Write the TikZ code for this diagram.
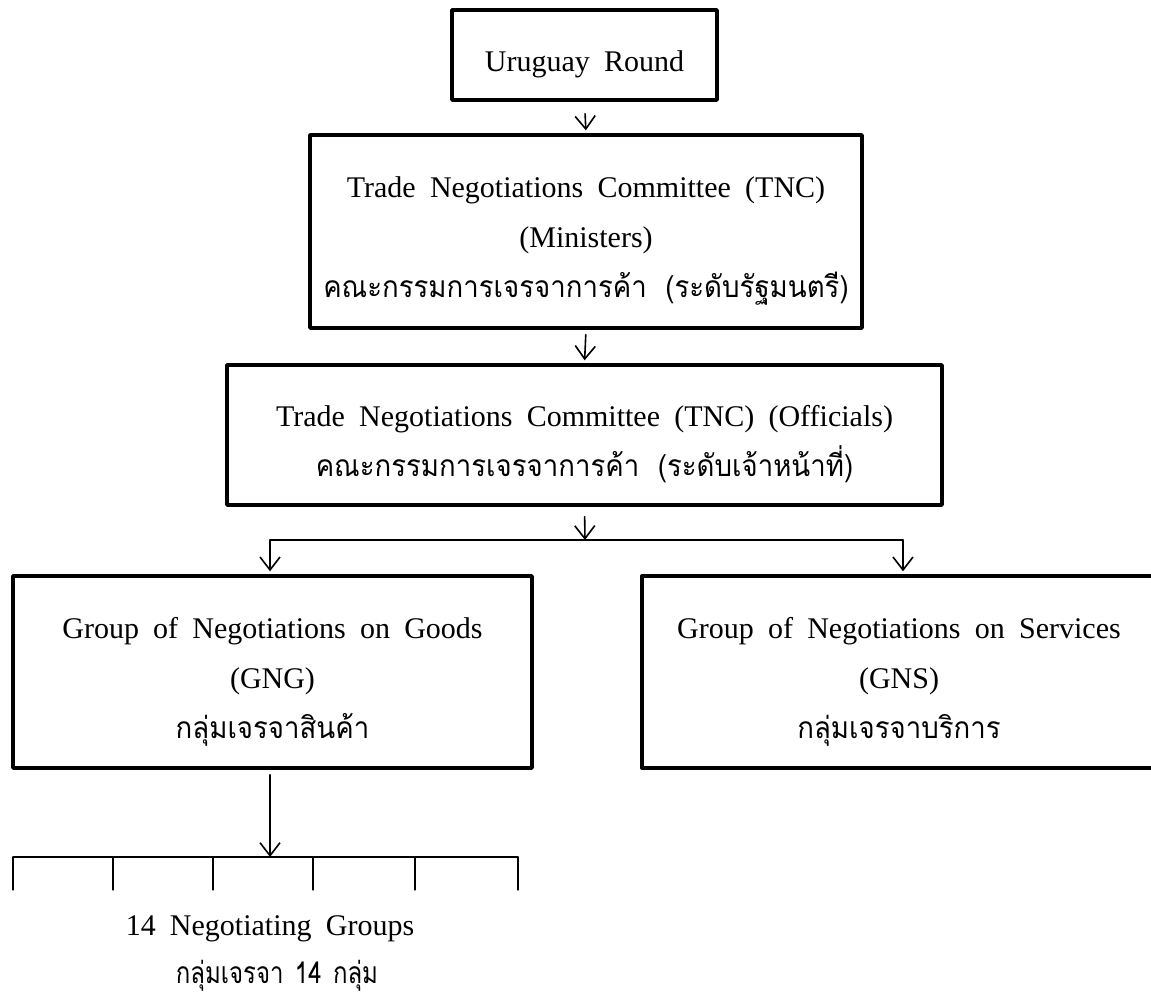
\documentclass[tikz,border=0pt]{standalone}
\usepackage{fontspec}
\setmainfont{Liberation Serif}[WordSpace=1.9]
\newfontfamily\thaifont[Script=Thai,FakeStretch=0.92,WordSpace=2]{Loma}
\newfontfamily\thainarrow[Script=Thai,FakeStretch=0.8,WordSpace=1.4]{Loma}
\usetikzlibrary{arrows.meta}
\begin{document}
\begin{tikzpicture}[x=0.5pt,y=-0.5pt,>={Straight Barb[length=6.5pt,width=10pt]},line join=round,line cap=round,
		box/.style={draw,line width=1.7pt,align=center,inner sep=0pt,font=\fontsize{15}{25}\selectfont},
		arw/.style={->,line width=0.8pt},
		lnk/.style={line width=0.6pt}]
		\def\up{\rule{0pt}{20pt}}
		\useasboundingbox (0,0) rectangle (1151,994);
		\clip (0,0) rectangle (1151,994);
		\node[box,minimum width=132.5pt,minimum height=45pt] (ur) at (584.5,55) {\up Uruguay Round};
		\node[box,minimum width=276pt,minimum height=96.5pt] (tm) at (586,231.5)
		{\up Trade Negotiations Committee (TNC)\\(Ministers)\\{\thaifont คณะกรรมการเจรจาการค้า (ระดับรัฐมนตรี)}};
		\node[box,minimum width=357.5pt,minimum height=70pt] (to) at (584.5,435)
		{\up Trade Negotiations Committee (TNC) (Officials)\\{\thaifont คณะกรรมการเจรจาการค้า (ระดับเจ้าหน้าที่)}};
		\node[box,minimum width=259.5pt,minimum height=96pt] (gng) at (272.5,672)
		{\up Group of Negotiations on Goods\\(GNG)\\{\thaifont กลุ่มเจรจาสินค้า}};
		\node[box,minimum width=257pt,minimum height=96pt] (gns) at (899,672)
		{\up Group of Negotiations on Services\\(GNS)\\{\thaifont กลุ่มเจรจาบริการ}};
		\node[font=\fontsize{15}{25}\selectfont] (ng) at (270,929) {14 Negotiating Groups};
		\node[font=\fontsize{15}{25}\selectfont\thainarrow] (ngt) at (277,976) {กลุ่มเจรจา 14 กลุ่ม};
		\coordinate (jm) at (585,540);
		\coordinate (jl) at (270,540);
		\coordinate (jr) at (903,540);
		\coordinate (cb) at (270,857);
		\draw[arw,shorten <=6pt,shorten >=1.5pt] (ur.south) -- (tm.north);
		\draw[arw,shorten <=2.5pt,shorten >=1.5pt] (tm.south) -- (to.north);
		\draw[arw,shorten <=5pt] (to.south) -- (jm);
		\draw[lnk] (jl) -- (jr);
		\draw[arw,shorten >=1.5pt] (jl) -- (jl |- gng.north);
		\draw[arw,shorten >=1.5pt] (jr) -- (jr |- gns.north);
		\draw[arw,shorten <=2.5pt] (jl |- gng.south) -- (cb);
		\draw[lnk] (13,857) -- (518,857);
		\foreach \x in {13,113,213,313,415,518}
		\draw[lnk] (\x,857) -- (\x,890);
\end{tikzpicture}
\end{document}
